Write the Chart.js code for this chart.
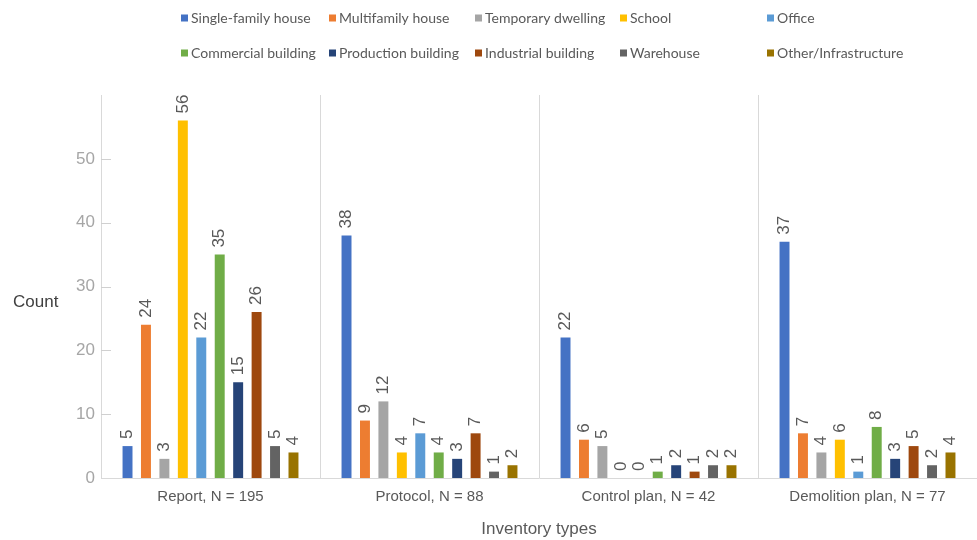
<!DOCTYPE html>
<html>
<head>
<meta charset="utf-8">
<script src="https://cdn.jsdelivr.net/npm/chart.js@4.4.1/dist/chart.umd.min.js"></script>
<style>
  html, body { margin: 0; padding: 0; background: #ffffff; }
  #wrap { width: 977px; height: 540px; }
</style>
</head>
<body>
<div id="wrap"><canvas id="chart" width="977" height="540"></canvas></div>
<script>
// Inventory types on the category axis
const categories = ['Report, N = 195', 'Protocol, N = 88', 'Control plan, N = 42', 'Demolition plan, N = 77'];

// Building types (one series each)
const seriesNames = [
  'Single-family house', 'Multifamily house', 'Temporary dwelling', 'School', 'Office',
  'Commercial building', 'Production building', 'Industrial building', 'Warehouse', 'Other/Infrastructure'
];

// Counts per inventory type, in category order
const singleFamily = [5, 38, 22, 37];
const multifamily  = [24, 9, 6, 7];
const temporary    = [3, 12, 5, 4];
const school       = [56, 4, 0, 6];
const office       = [22, 7, 0, 1];
const commercial   = [35, 4, 1, 8];
const production   = [15, 3, 2, 3];
const industrial   = [26, 7, 1, 5];
const warehouse    = [5, 1, 2, 2];
const other        = [4, 2, 2, 4];

const yTicks = [0, 10, 20, 30, 40, 50];

const seriesValues = [singleFamily, multifamily, temporary, school, office,
                      commercial, production, industrial, warehouse, other];
const seriesColors = ['#4472C4', '#ED7D31', '#A5A5A5', '#FFC000', '#5B9BD5',
                      '#70AD47', '#264478', '#9E480E', '#636363', '#997300'];

const BASE_FONT = '"Liberation Sans", Arial, sans-serif';

// Rotated value labels above every bar
const barValueLabels = {
  id: 'barValueLabels',
  afterDatasetsDraw(chart) {
    const ctx = chart.ctx;
    ctx.save();
    ctx.font = '17px ' + BASE_FONT;
    ctx.fillStyle = '#595959';
    ctx.textAlign = 'left';
    ctx.textBaseline = 'middle';
    chart.data.datasets.forEach((ds, di) => {
      const meta = chart.getDatasetMeta(di);
      meta.data.forEach((bar, i) => {
        ctx.save();
        ctx.translate(bar.x, bar.y - 7);
        ctx.rotate(-Math.PI / 2);
        ctx.fillText(String(ds.data[i]), 0, 0);
        ctx.restore();
      });
    });
    ctx.restore();
  }
};

// Short tick marks pointing into the plot from the value axis
const innerTicks = {
  id: 'innerTicks',
  afterDraw(chart) {
    const y = chart.scales.y;
    const left = chart.chartArea.left;
    const ctx = chart.ctx;
    ctx.save();
    ctx.strokeStyle = '#d0d0d0';
    ctx.lineWidth = 1;
    yTicks.forEach(v => {
      if (v === 0) return;
      const py = Math.round(y.getPixelForValue(v)) + 0.5;
      ctx.beginPath();
      ctx.moveTo(left, py);
      ctx.lineTo(left + 10, py);
      ctx.stroke();
    });
    ctx.restore();
  }
};

// Horizontal "Count" caption beside the value axis
const valueAxisCaption = {
  id: 'valueAxisCaption',
  afterDraw(chart) {
    const ctx = chart.ctx;
    const y = chart.scales.y;
    ctx.save();
    ctx.font = '17px ' + BASE_FONT;
    ctx.fillStyle = '#404040';
    ctx.textAlign = 'left';
    ctx.textBaseline = 'middle';
    ctx.fillText('Count', 13, y.getPixelForValue(27.5));
    ctx.restore();
  }
};

// Two-row legend laid out in fixed columns
const gridLegend = {
  id: 'gridLegend',
  afterDraw(chart, args, opts) {
    const ctx = chart.ctx;
    ctx.save();
    ctx.font = opts.font;
    ctx.textAlign = 'left';
    ctx.textBaseline = 'middle';
    chart.data.datasets.forEach((ds, i) => {
      const col = i % opts.columns.length;
      const row = Math.floor(i / opts.columns.length);
      const x = opts.columns[col];
      const cy = opts.rows[row];
      ctx.fillStyle = ds.backgroundColor;
      ctx.fillRect(x, cy - 3.5, 7, 7);
      ctx.fillStyle = '#595959';
      ctx.fillText(ds.label, x + 10, cy);
    });
    ctx.restore();
  }
};

const datasets = seriesNames.map((name, i) => ({
  label: name,
  data: seriesValues[i],
  backgroundColor: seriesColors[i],
  borderWidth: 0,
  categoryPercentage: 0.842,
  barPercentage: 0.54
}));

new Chart(document.getElementById('chart'), {
  type: 'bar',
  data: { labels: categories, datasets },
  options: {
    responsive: false,
    animation: false,
    devicePixelRatio: 1,
    layout: { padding: { top: 95, right: 0, bottom: 0, left: 0 } },
    plugins: {
      legend: { display: false },
      tooltip: { enabled: false },
      gridLegend: {
        font: '14px Lato, "Liberation Sans", sans-serif',
        columns: [181, 329, 475, 620, 767],
        rows: [18, 53]
      }
    },
    scales: {
      x: {
        offset: true,
        grid: { display: true, offset: true, color: '#d9d9d9', drawTicks: false, lineWidth: 1 },
        border: { display: true, color: '#d9d9d9' },
        ticks: { color: '#595959', font: { family: BASE_FONT, size: 15 }, padding: 10 },
        title: {
          display: true, text: 'Inventory types', color: '#595959',
          font: { family: BASE_FONT, size: 17 }, padding: { top: 0, bottom: 0 }
        },
        afterFit(scale) { scale.height = 62; }
      },
      y: {
        min: 0, max: 60,
        grid: { display: false, drawTicks: false },
        border: { display: true, color: '#d9d9d9' },
        ticks: {
          stepSize: 10,
          color: '#a6a6a6',
          font: { family: BASE_FONT, size: 17 },
          padding: 6,
          callback: v => (yTicks.includes(v) ? v : null)
        },
        afterFit(scale) { scale.width = 101; }
      }
    }
  },
  plugins: [barValueLabels, innerTicks, valueAxisCaption, gridLegend]
});
</script>
</body>
</html>
